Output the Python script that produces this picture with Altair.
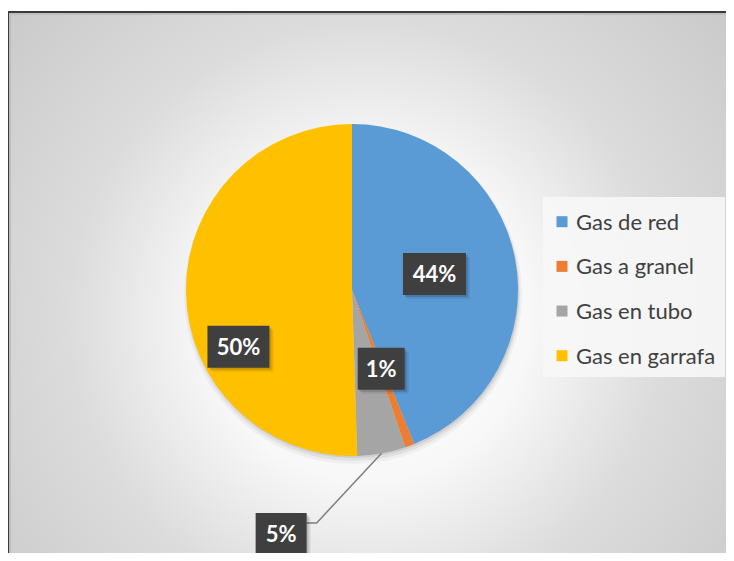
import math
import altair as alt
import pandas as pd

# ---- data ----
categories = ["Gas de red", "Gas a granel", "Gas en tubo", "Gas en garrafa"]
shares = [43.9, 0.9, 4.7, 50.5]
labels = ["44%", "1%", "5%", "50%"]
colors = ["#5B9BD5", "#ED7D31", "#A5A5A5", "#FFC000"]

# ---- layout ----
W, H = 718, 545
CX, CY, R = 344, 282, 166
label_radius = [84, 84, 254, 127]
label_angle_override = [None, None, 196.2, 243.4]
box_width = [63, 47, 51, 62]
BOX_H = 42
FONT = "Lato"

pie_df = pd.DataFrame({"category": categories, "share": shares, "idx": range(4)})

# label geometry derived from the slice angles
rows = []
cum = 0.0
leader = []
for i, (c, v, t) in enumerate(zip(categories, shares, labels)):
    a0 = cum / 100 * 360
    a1 = (cum + v) / 100 * 360
    cum += v
    mid = (a0 + a1) / 2
    ang = label_angle_override[i] if label_angle_override[i] is not None else mid
    r = label_radius[i]
    lx = CX + r * math.sin(math.radians(ang))
    ly = CY - r * math.cos(math.radians(ang))
    w = box_width[i]
    rows.append(dict(text=t, lx=lx, ly=ly, bx0=lx - w / 2, bx1=lx + w / 2,
                     by0=ly - BOX_H / 2, by1=ly + BOX_H / 2))
    if r > R:  # label outside the pie -> leader line
        ex = CX + R * math.sin(math.radians(mid))
        ey = CY - R * math.cos(math.radians(mid))
        sy = ly - BOX_H / 2 + 10
        leader = [dict(p=0, x=lx + w / 2, y=sy), dict(p=1, x=lx + w / 2 + 10, y=sy),
                  dict(p=2, x=ex, y=ey)]
lab_df = pd.DataFrame(rows)
shadow1 = lab_df.assign(bx0=lab_df.bx0 + 2, bx1=lab_df.bx1 + 2, by0=lab_df.by0 + 2, by1=lab_df.by1 + 2)
shadow2 = lab_df.assign(bx0=lab_df.bx0 + 4, bx1=lab_df.bx1 + 4, by0=lab_df.by0 + 4, by1=lab_df.by1 + 4)
leader_df = pd.DataFrame(leader)
legend_df = pd.DataFrame({"category": categories})

dummy = pd.DataFrame({"a": [0]})

# background with radial gradient
bg = alt.Chart(dummy).mark_rect(
    fill=alt.RadialGradient(
        gradient="radial", x1=0.5, y1=0.55, r1=0, x2=0.5, y2=0.55, r2=0.75,
        stops=[alt.GradientStop(color="#ffffff", offset=0),
               alt.GradientStop(color="#f8f8f8", offset=0.3),
               alt.GradientStop(color="#dcdcdc", offset=0.55),
               alt.GradientStop(color="#c3c3c3", offset=1)])
).encode(x=alt.value(0), x2=alt.value(W), y=alt.value(3), y2=alt.value(H))

top_border = alt.Chart(dummy).mark_rule(color="#3a3a3a", strokeWidth=2).encode(
    x=alt.value(0), x2=alt.value(W), y=alt.value(4))
top_band = alt.Chart(dummy).mark_rule(color="#bdbdbd", strokeWidth=2).encode(
    x=alt.value(0), x2=alt.value(W), y=alt.value(6))
left_border = alt.Chart(dummy).mark_rule(color="#3a3a3a", strokeWidth=2).encode(
    x=alt.value(0), y=alt.value(3), y2=alt.value(H))
left_band = alt.Chart(dummy).mark_rule(color="#bdbdbd", strokeWidth=2).encode(
    x=alt.value(2), y=alt.value(5), y2=alt.value(H))

# pie shadow
pie_shadow = alt.layer(*[
    alt.Chart(dummy).mark_arc(theta=0, theta2=2 * math.pi, radius=R + dr, color="black",
                              opacity=op).encode(x=alt.value(CX + 1), y=alt.value(CY + dy))
    for dr, dy, op in [(3, 5, 0.04), (1, 4, 0.06), (0, 2, 0.08)]
])

pie = alt.Chart(pie_df).mark_arc(radius=R).encode(
    theta=alt.Theta("share:Q", stack=True),
    order=alt.Order("idx:Q"),
    color=alt.Color("category:N", scale=alt.Scale(domain=categories, range=colors), legend=None),
    x=alt.value(CX), y=alt.value(CY),
)

leader_line = alt.Chart(leader_df).mark_line(color="#7f7f7f", strokeWidth=1.5).encode(
    x=alt.X("x:Q", scale=None, axis=None), y=alt.Y("y:Q", scale=None, axis=None),
    order="p:Q")


def boxes(df, fill, opacity):
    return alt.Chart(df).mark_rect(fill=fill, opacity=opacity).encode(
        x=alt.X("bx0:Q", scale=None, axis=None), x2="bx1:Q",
        y=alt.Y("by0:Q", scale=None, axis=None), y2="by1:Q")


label_text = alt.Chart(lab_df).mark_text(
    font=FONT, fontSize=22, fontWeight="bold", color="white", baseline="middle", dy=1
).encode(x=alt.X("lx:Q", scale=None, axis=None), y=alt.Y("ly:Q", scale=None, axis=None),
         text="text:N")

# legend
leg_box = alt.Chart(dummy).mark_rect(fill="#f7f7f7", opacity=0.9).encode(
    x=alt.value(535), x2=alt.value(717), y=alt.value(189), y2=alt.value(369))
leg_y = alt.Y("category:N", scale=alt.Scale(domain=categories, range=[213.7, 347.7], padding=0),
              axis=None)
leg_sq = alt.Chart(legend_df).mark_square(size=121, opacity=1).encode(
    x=alt.value(554), y=leg_y,
    color=alt.Color("category:N", scale=alt.Scale(domain=categories, range=colors), legend=None))
leg_txt = alt.Chart(legend_df).mark_text(
    font=FONT, fontSize=22, color="#404040", align="left", baseline="middle", dy=1
).encode(x=alt.value(568), y=leg_y, text="category:N")

chart = alt.layer(
    bg, top_band, left_band, top_border, left_border, pie_shadow, pie, leader_line,
    boxes(shadow2, "black", 0.08), boxes(shadow1, "black", 0.15), boxes(lab_df, "#3f3f3f", 1),
    label_text, leg_box, leg_sq, leg_txt
).resolve_scale(x="independent", y="independent", color="independent", theta="independent").properties(
    width=W, height=H, autosize=alt.AutoSizeParams(type="none"), padding=0, background="white"
).configure_view(stroke=None)

chart.save("out.html", embed_options={"renderer": "svg", "actions": False})
